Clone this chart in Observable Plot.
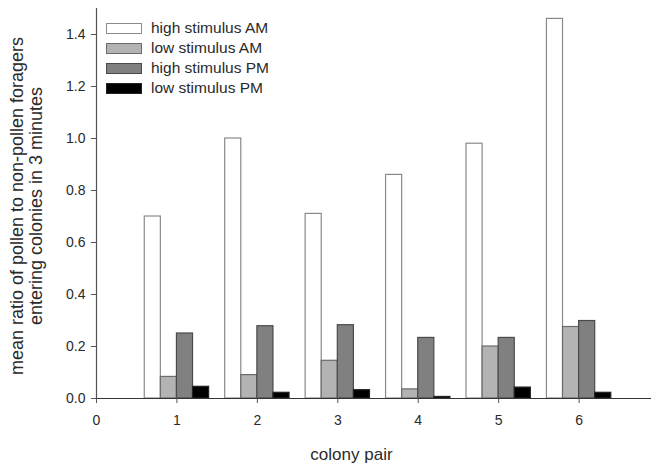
<!DOCTYPE html>
<html>
<head>
<meta charset="utf-8">
<script src="https://cdn.jsdelivr.net/npm/d3@7"></script>
<script src="https://cdn.jsdelivr.net/npm/@observablehq/plot@0.6"></script>
<style>
  html, body { margin: 0; padding: 0; background: #fff; }
  #wrap { position: relative; width: 653px; height: 466px; font-family: "Liberation Sans", Arial, sans-serif; }
  #legend { position: absolute; left: 106px; top: 18px; font-size: 15.5px; color: #2a2a2a; }
  .row { display: flex; align-items: center; height: 20px; }
  .sw { width: 36px; height: 11px; box-sizing: border-box; border: 1px solid #777; margin-right: 9px; }
</style>
</head>
<body>
<div id="wrap"></div>
<script>
const pairs = [1, 2, 3, 4, 5, 6];
const seriesNames = ["high stimulus AM", "low stimulus AM", "high stimulus PM", "low stimulus PM"];
const highAM = [0.70, 1.00, 0.71, 0.86, 0.98, 1.46];
const lowAM  = [0.083, 0.09, 0.145, 0.035, 0.20, 0.275];
const highPM = [0.25, 0.278, 0.282, 0.233, 0.233, 0.298];
const lowPM  = [0.045, 0.022, 0.032, 0.006, 0.042, 0.022];
const yTicks = [0, 0.2, 0.4, 0.6, 0.8, 1.0, 1.2, 1.4];
const xTicks = [0, 1, 2, 3, 4, 5, 6];

const fills = ["#ffffff", "#b3b3b3", "#808080", "#000000"];
const strokes = ["#8a8a8a", "#6a6a6a", "#4a4a4a", "#222222"];
const barW = 0.2;

const seriesVals = [highAM, lowAM, highPM, lowPM];
const rows = [];
seriesVals.forEach((vals, s) => {
  vals.forEach((v, i) => {
    rows.push({pair: pairs[i], s, name: seriesNames[s], value: v,
               x1: pairs[i] + (s - 2) * barW, x2: pairs[i] + (s - 1) * barW});
  });
});

const chart = Plot.plot({
  width: 653,
  height: 466,
  marginLeft: 96,
  marginRight: 2,
  marginTop: 8,
  marginBottom: 68,
  style: {fontFamily: "'Liberation Sans', Arial, sans-serif", fontSize: "14px", color: "#2a2a2a", background: "#fff"},
  x: {domain: [0, 6.9]},
  y: {domain: [0, 1.5]},
  marks: [
    Plot.rectY(rows, {x1: "x1", x2: "x2", y1: 0, y2: "value",
      fill: d => fills[d.s], stroke: d => strokes[d.s], strokeWidth: 1.2}),
    Plot.ruleX([0], {stroke: "#555", strokeWidth: 1.2}),
    Plot.ruleY([0], {stroke: "#333", strokeWidth: 1}),
    Plot.axisY({ticks: yTicks, tickFormat: d3.format(".1f"), tickSize: 5, tickPadding: 6, label: null, stroke: "#555"}),
    Plot.axisX({ticks: xTicks, tickFormat: d3.format("d"), tickSize: 5, tickPadding: 12, label: null, stroke: "#555"}),
    Plot.text(["colony pair"], {frameAnchor: "bottom", x: 3.17, dy: 61, fontSize: 17, fill: "#2a2a2a"})
  ]
});

const wrap = document.getElementById("wrap");
wrap.appendChild(chart);

// y-axis title (two lines, rotated)
const svg = d3.select(chart);
const yt = svg.append("text")
  .attr("transform", "translate(23,206) rotate(-90)")
  .attr("text-anchor", "middle")
  .attr("font-size", 18)
  .attr("fill", "#2a2a2a");
yt.append("tspan").attr("x", 0).attr("y", 0).text("mean ratio of pollen to non-pollen foragers");
yt.append("tspan").attr("x", 0).attr("y", 19).text("entering colonies in 3 minutes");

// legend
const leg = document.createElement("div");
leg.id = "legend";
seriesNames.forEach((n, i) => {
  const r = document.createElement("div");
  r.className = "row";
  const sw = document.createElement("div");
  sw.className = "sw";
  sw.style.background = fills[i];
  sw.style.borderColor = strokes[i];
  const t = document.createElement("span");
  t.textContent = n;
  r.appendChild(sw); r.appendChild(t);
  leg.appendChild(r);
});
wrap.appendChild(leg);
</script>
</body>
</html>
